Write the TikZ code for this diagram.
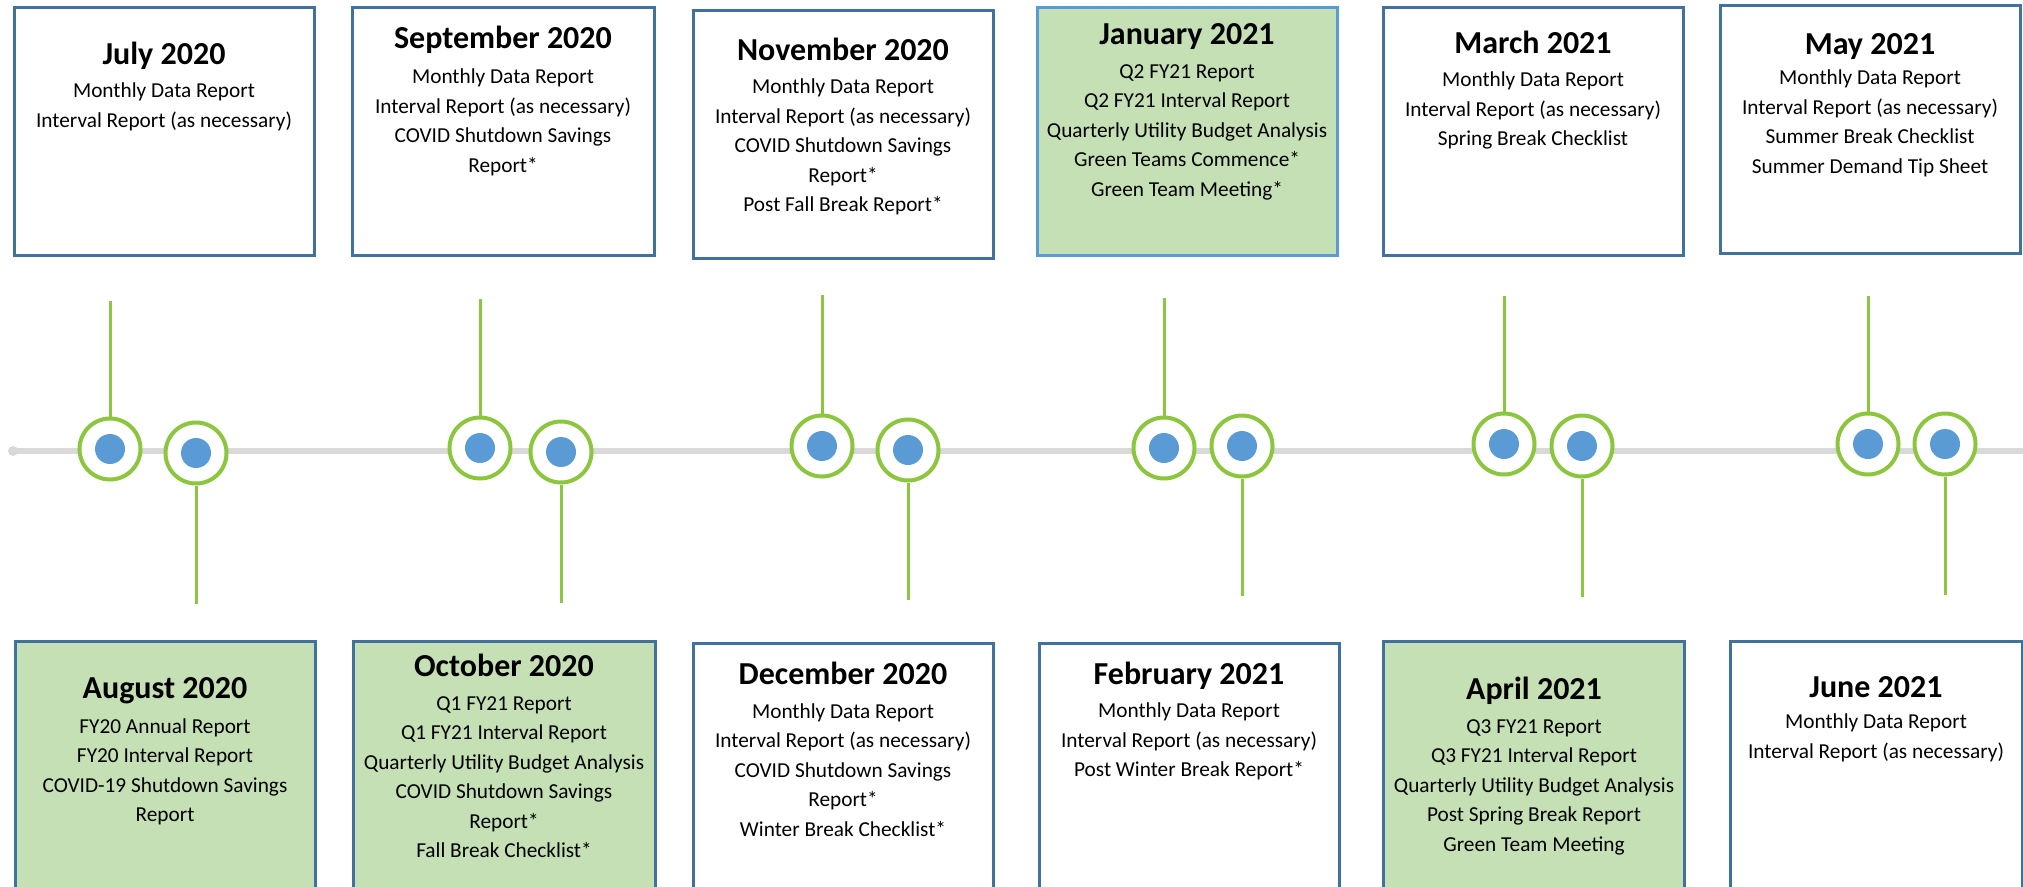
\documentclass[tikz,border=0pt]{standalone}
\usepackage{fontspec}
\setmainfont{Carlito}
\definecolor{boxblue}{RGB}{65,113,156}
\definecolor{lightblue}{RGB}{91,155,213}
\definecolor{fillgreen}{RGB}{197,224,180}
\definecolor{lime}{RGB}{140,198,63}
\definecolor{dotblue}{RGB}{91,155,213}
\definecolor{tlgray}{RGB}{217,217,217}
\tikzset{
  box/.style={draw=boxblue, line width=3pt, fill=white, rectangle, inner sep=0pt},
  greenbox/.style={box, fill=fillgreen},
  ttl/.style={anchor=mid, inner sep=0pt, yshift=-9pt, font=\fontsize{32}{38}\selectfont\bfseries},
  body/.style={anchor=north, inner sep=0pt, align=center, font=\fontsize{21.3}{29.5}\selectfont},
  ring/.style={circle, draw=lime, line width=4pt, fill=white, minimum size=61pt, inner sep=0pt},
  dot/.style={circle, fill=dotblue, minimum size=30pt, inner sep=0pt},
  stem/.style={draw=lime, line width=3pt},
  axis/.style={draw=tlgray, line width=6pt}
}
\begin{document}
\begin{tikzpicture}[x=1pt,y=-1pt]
\path[use as bounding box] (0,0) rectangle (2023,886);
\clip (0,0) rectangle (2023,886);
% timeline axis
\coordinate (axS) at (13,451);
\coordinate (axE) at (2030,451);
\path[axis] (axS) -- (axE);
\fill[tlgray] (axS) circle (5pt);

% top boxes
\node[box, minimum width=300pt, minimum height=248pt] (bJul) at (164,131) {};
\node[ttl] (tJul) at (164,53) {July 2020};
\node[body] (lJul) at (164,83) {Monthly Data Report\\Interval Report (as necessary)};

\node[box, minimum width=302pt, minimum height=248pt] (bSep) at (503,131) {};
\node[ttl] (tSep) at (503,37) {September 2020};
\node[body] (lSep) at (503,69) {Monthly Data Report\\Interval Report (as necessary)\\COVID Shutdown Savings\\Report*};

\node[box, minimum width=300pt, minimum height=248pt] (bNov) at (843,134) {};
\node[ttl] (tNov) at (843,49) {November 2020};
\node[body] (lNov) at (843,79) {Monthly Data Report\\Interval Report (as necessary)\\COVID Shutdown Savings\\Report*\\Post Fall Break Report*};

\node[greenbox, draw=lightblue, minimum width=300pt, minimum height=248pt] (bJan) at (1187,131) {};
\node[ttl] (tJan) at (1187,33) {January 2021};
\node[body] (lJan) at (1187,64) {Q2 FY21 Report\\Q2 FY21 Interval Report\\Quarterly Utility Budget Analysis\\Green Teams Commence*\\Green Team Meeting*};

\node[box, minimum width=300pt, minimum height=248pt] (bMar) at (1533,131) {};
\node[ttl] (tMar) at (1533,42) {March 2021};
\node[body] (lMar) at (1533,72) {Monthly Data Report\\Interval Report (as necessary)\\Spring Break Checklist};

\node[box, minimum width=300pt, minimum height=248pt] (bMay) at (1870,129) {};
\node[ttl] (tMay) at (1870,43) {May 2021};
\node[body] (lMay) at (1870,70) {Monthly Data Report\\Interval Report (as necessary)\\Summer Break Checklist\\Summer Demand Tip Sheet};

% bottom boxes
\node[greenbox, minimum width=300pt, minimum height=260pt] (bAug) at (165,771) {};
\node[ttl] (tAug) at (165,687) {August 2020};
\node[body] (lAug) at (165,718) {FY20 Annual Report\\FY20 Interval Report\\COVID-19 Shutdown Savings\\Report};

\node[greenbox, minimum width=302pt, minimum height=260pt] (bOct) at (504,771) {};
\node[ttl] (tOct) at (504,665) {October 2020};
\node[body] (lOct) at (504,696) {Q1 FY21 Report\\Q1 FY21 Interval Report\\Quarterly Utility Budget Analysis\\COVID Shutdown Savings\\Report*\\Fall Break Checklist*};

\node[box, minimum width=300pt, minimum height=258pt] (bDec) at (843,772) {};
\node[ttl] (tDec) at (843,673) {December 2020};
\node[body] (lDec) at (843,703) {Monthly Data Report\\Interval Report (as necessary)\\COVID Shutdown Savings\\Report*\\Winter Break Checklist*};

\node[box, minimum width=300pt, minimum height=258pt] (bFeb) at (1189,772) {};
\node[ttl] (tFeb) at (1189,673) {February 2021};
\node[body] (lFeb) at (1189,703) {Monthly Data Report\\Interval Report (as necessary)\\Post Winter Break Report*};

\node[greenbox, minimum width=301pt, minimum height=260pt] (bApr) at (1534,771) {};
\node[ttl] (tApr) at (1534,688) {April 2021};
\node[body] (lApr) at (1534,719) {Q3 FY21 Report\\Q3 FY21 Interval Report\\Quarterly Utility Budget Analysis\\Post Spring Break Report\\Green Team Meeting};

\node[box, minimum width=292pt, minimum height=260pt] (bJun) at (1876,771) {};
\node[ttl] (tJun) at (1876,686) {June 2021};
\node[body] (lJun) at (1876,714) {Monthly Data Report\\Interval Report (as necessary)};

% markers
\node[ring] (r1) at (110,449) {};   \node[dot] (d1) at (r1) {};
\node[ring] (r2) at (196,453) {};   \node[dot] (d2) at (r2) {};
\node[ring] (r3) at (480,448) {};   \node[dot] (d3) at (r3) {};
\node[ring] (r4) at (561,452) {};   \node[dot] (d4) at (r4) {};
\node[ring] (r5) at (822,446) {};   \node[dot] (d5) at (r5) {};
\node[ring] (r6) at (908,450) {};   \node[dot] (d6) at (r6) {};
\node[ring] (r7) at (1164,448) {};  \node[dot] (d7) at (r7) {};
\node[ring] (r8) at (1242,446) {};  \node[dot] (d8) at (r8) {};
\node[ring] (r9) at (1504,444) {};  \node[dot] (d9) at (r9) {};
\node[ring] (r10) at (1582,446) {}; \node[dot] (d10) at (r10) {};
\node[ring] (r11) at (1868,444) {}; \node[dot] (d11) at (r11) {};
\node[ring] (r12) at (1945,444) {}; \node[dot] (d12) at (r12) {};

% stems
\coordinate (s1) at (110,301);
\coordinate (s2) at (196,604);
\coordinate (s3) at (480,299);
\coordinate (s4) at (561,603);
\coordinate (s5) at (822,295);
\coordinate (s6) at (908,600);
\coordinate (s7) at (1164,298);
\coordinate (s8) at (1242,596);
\coordinate (s9) at (1504,296);
\coordinate (s10) at (1582,597);
\coordinate (s11) at (1868,296);
\coordinate (s12) at (1945,595);
\path[stem] (s1) -- (r1.north);
\path[stem] (r2.south) -- (s2);
\path[stem] (s3) -- (r3.north);
\path[stem] (r4.south) -- (s4);
\path[stem] (s5) -- (r5.north);
\path[stem] (r6.south) -- (s6);
\path[stem] (s7) -- (r7.north);
\path[stem] (r8.south) -- (s8);
\path[stem] (s9) -- (r9.north);
\path[stem] (r10.south) -- (s10);
\path[stem] (s11) -- (r11.north);
\path[stem] (r12.south) -- (s12);
\end{tikzpicture}
\end{document}
